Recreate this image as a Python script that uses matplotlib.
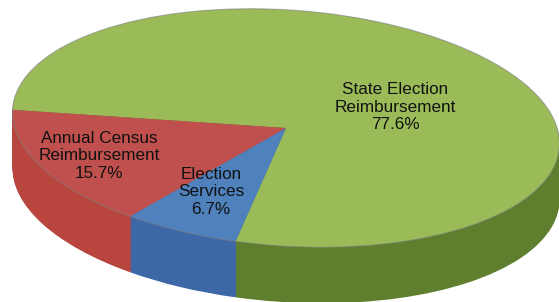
import matplotlib
matplotlib.use("Agg")
import matplotlib.pyplot as plt
from matplotlib.patches import Ellipse
from matplotlib.transforms import Affine2D

# data
categories = ["State Election\nReimbursement", "Annual Census\nReimbursement", "Election\nServices"]
shares = [77.6, 15.7, 6.7]

top_colors = ["#9bbb59", "#c0504d", "#4f81bd"]
side_colors = ["#5f7f2e", "#b8463f", "#3d68a8"]
label_xy = [(395, 107), (99, 156), (211, 192)]  # picture pixels, y down

W, H = 559, 302
cx, cy = 286, 128      # centre of top face (pixels, y down)
rx, ry = 274, 118      # semi axes of the top face
tilt = -4.0            # degrees
depth = 56             # thickness of the disc
start = 261.1

plt.rcParams["font.family"] = ["Liberation Sans", "DejaVu Sans"]

fig = plt.figure(figsize=(W / 100, H / 100), dpi=100)
ax = fig.add_axes([0, 0, 1, 1])


def face(offset):
    return (Affine2D().scale(rx, ry).rotate_deg(tilt)
            .translate(cx, H - cy - offset) + ax.transData)


# side walls: stack of darker pies
for off in range(depth, 0, -1):
    wedges, _ = ax.pie(shares, colors=side_colors, startangle=start,
                       counterclock=True, wedgeprops=dict(linewidth=0))
    for w in wedges:
        w.set_transform(face(off))

# top face
wedges, _ = ax.pie(shares, colors=top_colors, startangle=start,
                   counterclock=True, wedgeprops=dict(linewidth=0))
for w in wedges:
    w.set_transform(face(0))
ax.add_patch(Ellipse((0, 0), 2, 2, fill=False, edgecolor="#7f7f7f",
                     linewidth=0.8, alpha=0.6, transform=face(0)))

for name, val, (x, y) in zip(categories, shares, label_xy):
    ax.text(x, H - y, f"{name}\n{val:.1f}%", ha="center", va="center",
            fontsize=12.3, color="#111111", linespacing=1.22)

ax.set_aspect("auto")
ax.set_xlim(0, W)
ax.set_ylim(0, H)
ax.axis("off")
fig.savefig("out.png", dpi=100)
